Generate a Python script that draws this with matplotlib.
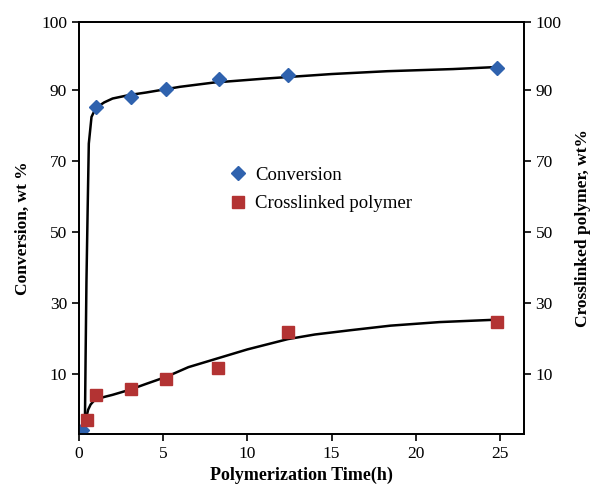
import matplotlib.pyplot as plt
from matplotlib.lines import Line2D

plt.rcParams['font.family'] = ['Liberation Serif', 'DejaVu Serif']

# ─── data ───────────────────────────────────────────────
conv_t = [0.2, 1.0, 3.1, 5.2, 8.3, 12.4, 24.8]
conv = [-5.8, 85.2, 88.0, 90.3, 93.1, 94.2, 96.3]
cross_t = [0.5, 1.0, 3.1, 5.2, 8.25, 12.4, 24.8]
cross = [-3.0, 4.1, 5.8, 8.6, 11.7, 21.9, 24.7]

# trend lines (traced)
conv_fit_t = [0.36, 0.40, 0.45, 0.52, 0.59, 0.75, 1.0, 1.5, 2, 3, 4, 6, 8, 11, 15, 18.3, 22.2, 24.9]
conv_fit = [-3.5, 15, 36, 56, 75, 82.5, 85, 86.6, 87.7, 88.7, 89.4, 91.0, 92.2, 93.3, 94.6, 95.4, 96.0, 96.6]
cross_fit_t = [0.36, 0.45, 0.55, 0.7, 0.95, 1.5, 2, 3, 4, 5.2, 6.5, 8.25, 10, 12.4, 14, 16.1, 18.5, 21.4, 24.9]
cross_fit = [-5.0, -2, 0, 1.5, 2.8, 3.6, 4.2, 5.6, 7.3, 9.3, 12, 14.5, 17, 19.9, 21.2, 22.4, 23.7, 24.7, 25.4]

x_ticks = [0, 5, 10, 15, 20, 25]
y_top = 109.2
y_ticks = [10, 30, 50, 70, 90, y_top]
y_labels = ['10', '30', '50', '70', '90', '100']

BLUE = '#2F62AE'
RED = '#B33333'

fig = plt.figure(figsize=(6.02, 4.94), dpi=100)
ax = fig.add_axes([0.131, 0.121, 0.739, 0.834])

ax.plot(conv_fit_t, conv_fit, color='black', lw=1.8, zorder=2)
ax.plot(cross_fit_t, cross_fit, color='black', lw=1.8, zorder=2)
ax.plot(conv_t, conv, linestyle='none', marker='D', ms=7.5, color=BLUE, zorder=3)
ax.plot(cross_t, cross, linestyle='none', marker='s', ms=8.5, color=RED, zorder=3)

ax.set_xlim(0, 26.4)
ax.set_ylim(-6.9, y_top)
ax.set_xticks(x_ticks)
ax.set_yticks(y_ticks)
ax.set_yticklabels(y_labels)
ax.tick_params(direction='out', length=5, width=1.2, labelsize=12.5)
for s in ax.spines.values():
    s.set_linewidth(1.3)

ax2 = ax.twinx()
ax2.set_ylim(-6.9, y_top)
ax2.set_yticks(y_ticks)
ax2.set_yticklabels(y_labels)
ax2.tick_params(direction='out', length=5, width=1.2, labelsize=12.5)
for s in ax2.spines.values():
    s.set_linewidth(1.3)

ax.set_xlabel('Polymerization Time(h)', fontsize=13, fontweight='bold', labelpad=3)
ax.set_ylabel('Conversion, wt %', fontsize=12.5, fontweight='bold', labelpad=7)
ax2.set_ylabel('Crosslinked polymer, wt%', fontsize=12.5, fontweight='bold', labelpad=10)

handles = [
    Line2D([], [], linestyle='none', marker='D', ms=7, color=BLUE),
    Line2D([], [], linestyle='none', marker='s', ms=8, color=RED),
]
ax.legend(handles, ['Conversion', 'Crosslinked polymer'], loc='upper left',
          bbox_to_anchor=(0.295, 0.69), frameon=False, fontsize=13.5,
          handletextpad=0.3, labelspacing=0.6, handlelength=1.2)

plt.savefig('out.png', dpi=100)
